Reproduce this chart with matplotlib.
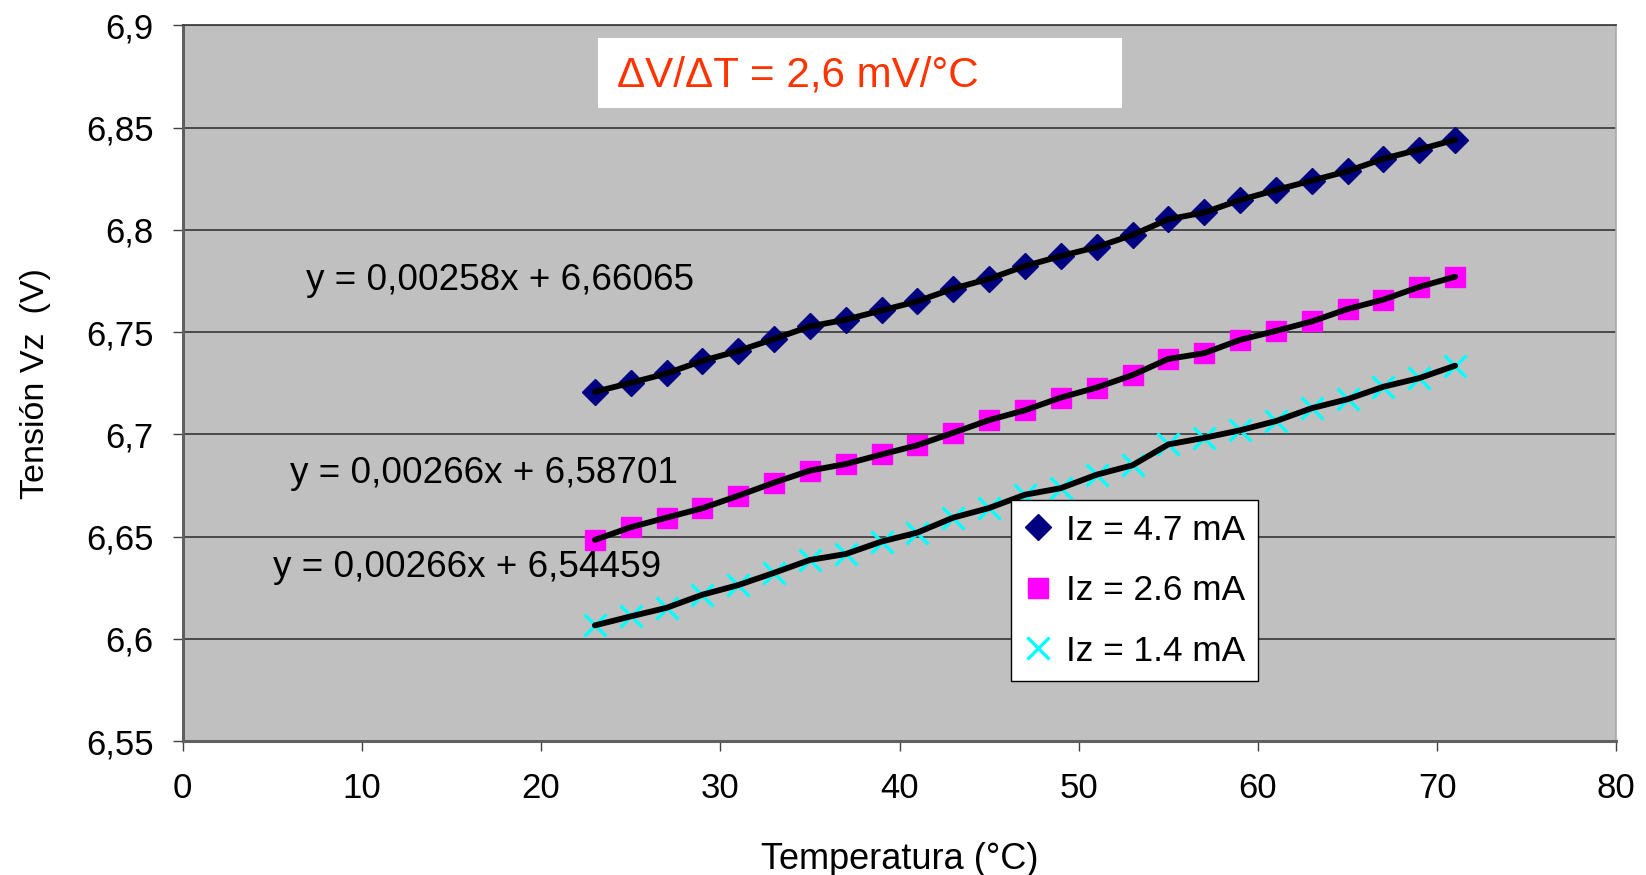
import matplotlib
matplotlib.use("Agg")
import matplotlib.pyplot as plt
from matplotlib.patches import Rectangle

plt.rcParams['font.family'] = ['Liberation Sans', 'DejaVu Sans']

# ---- data ----
temps = [23, 25, 27, 29, 31, 33, 35, 37, 39, 41, 43, 45, 47,
         49, 51, 53, 55, 57, 59, 61, 63, 65, 67, 69, 71]
v_47 = [6.7208, 6.7252, 6.7298, 6.7360, 6.7408, 6.7467, 6.7528, 6.7561, 6.7606,
        6.7651, 6.7713, 6.7761, 6.7823, 6.7872, 6.7916, 6.7975, 6.8052, 6.8085,
        6.8146, 6.8195, 6.8241, 6.8287, 6.8348, 6.8393, 6.8441]
v_26 = [6.6484, 6.6546, 6.6593, 6.6639, 6.6700, 6.6764, 6.6823, 6.6855, 6.6902,
        6.6947, 6.7008, 6.7070, 6.7118, 6.7180, 6.7229, 6.7290, 6.7369, 6.7397,
        6.7462, 6.7506, 6.7552, 6.7613, 6.7659, 6.7721, 6.7771]
v_14 = [6.6066, 6.6110, 6.6152, 6.6216, 6.6263, 6.6323, 6.6386, 6.6415, 6.6476,
        6.6520, 6.6593, 6.6640, 6.6705, 6.6737, 6.6803, 6.6849, 6.6951, 6.6983,
        6.7020, 6.7065, 6.7128, 6.7172, 6.7233, 6.7275, 6.7336]
series_labels = ['Iz = 4.7 mA', 'Iz = 2.6 mA', 'Iz = 1.4 mA']
equations = ['y = 0,00258x + 6,66065', 'y = 0,00266x + 6,58701', 'y = 0,00266x + 6,54459']
slope_text = '\u0394V/\u0394T = 2,6 mV/\u00b0C'
xticks = [0, 10, 20, 30, 40, 50, 60, 70, 80]
yticks = [6.55, 6.6, 6.65, 6.7, 6.75, 6.8, 6.85, 6.9]
ytick_labels = ['6,55', '6,6', '6,65', '6,7', '6,75', '6,8', '6,85', '6,9']
xlabel = 'Temperatura (\u00b0C)'
ylabel = 'Tensi\u00f3n Vz  (V)'

fig = plt.figure(figsize=(16.46, 8.75), dpi=100)
fig.patch.set_facecolor('white')
ax = fig.add_axes([0.111, 0.153, 0.871, 0.818])
ax.set_facecolor('#C0C0C0')

# markers
h1, = ax.plot(temps, v_47, linestyle='none', marker='D', markersize=13,
              color='#000080', zorder=3, label=series_labels[0])
h2, = ax.plot(temps, v_26, linestyle='none', marker='s', markersize=14,
              color='#FF00FF', zorder=3, label=series_labels[1])
h3, = ax.plot(temps, v_14, linestyle='none', marker='x', markersize=16,
              markeredgewidth=2.4, color='#00FFFF', zorder=3, label=series_labels[2])
# black lines on top
for vals in (v_47, v_26, v_14):
    ax.plot(temps, vals, color='black', linewidth=4.2, zorder=4,
            solid_capstyle='round', solid_joinstyle='round')

ax.set_xlim(0, 80)
ax.set_ylim(6.55, 6.9)
ax.set_xticks(xticks)
ax.set_xticklabels([str(t) for t in xticks])
ax.set_yticks(yticks)
ax.set_yticklabels(ytick_labels)
ax.tick_params(axis='both', labelsize=25, direction='out', length=7,
               width=1, color='#404040')
ax.tick_params(axis='y', pad=14)
ax.tick_params(axis='x', pad=15)

ax.yaxis.grid(True, color='#404040', linewidth=1.3)
ax.set_axisbelow(True)
for side in ('left', 'bottom'):
    ax.spines[side].set_color('#606060')
    ax.spines[side].set_linewidth(2.2)
ax.spines['top'].set_color('#404040')
ax.spines['top'].set_linewidth(1.3)
ax.spines['right'].set_color('#A8A8A8')
ax.spines['right'].set_linewidth(1.2)

ax.set_xlabel(xlabel, fontsize=26)
ax.set_ylabel(ylabel, fontsize=24.5)
ax.xaxis.set_label_coords(0.5, -0.165)
ax.xaxis.label.set_va('center')
ax.yaxis.set_label_coords(-0.103, 0.5)
ax.yaxis.label.set_va('center')

# equations
eq_pos = [(6.9, 6.775), (5.97, 6.681), (5.03, 6.635)]
for (ex, ey), txt in zip(eq_pos, equations):
    ax.text(ex, ey, txt, fontsize=26.6, ha='left', va='center', color='black', zorder=5)

# slope annotation box
ax.add_patch(Rectangle((0.2896, 0.8843), 0.655 - 0.2896, 0.982 - 0.8843,
                       transform=ax.transAxes, facecolor='white',
                       edgecolor='none', zorder=5))
ax.text(0.303, 0.9296, slope_text, transform=ax.transAxes, fontsize=30.3,
        color='#FF3300', ha='left', va='center', zorder=6)

leg = ax.legend(handles=[h1, h2, h3], loc='upper left',
                bbox_to_anchor=(0.5777, 0.3367), borderaxespad=0,
                fontsize=25.4, frameon=True, fancybox=False, framealpha=1,
                edgecolor='black', handlelength=0.75, handletextpad=0.42,
                labelspacing=0.78, borderpad=0.38, markerscale=1.0)
leg.get_frame().set_linewidth(1.0)
leg.set_zorder(7)

fig.savefig('out.png', dpi=100, facecolor='white')
